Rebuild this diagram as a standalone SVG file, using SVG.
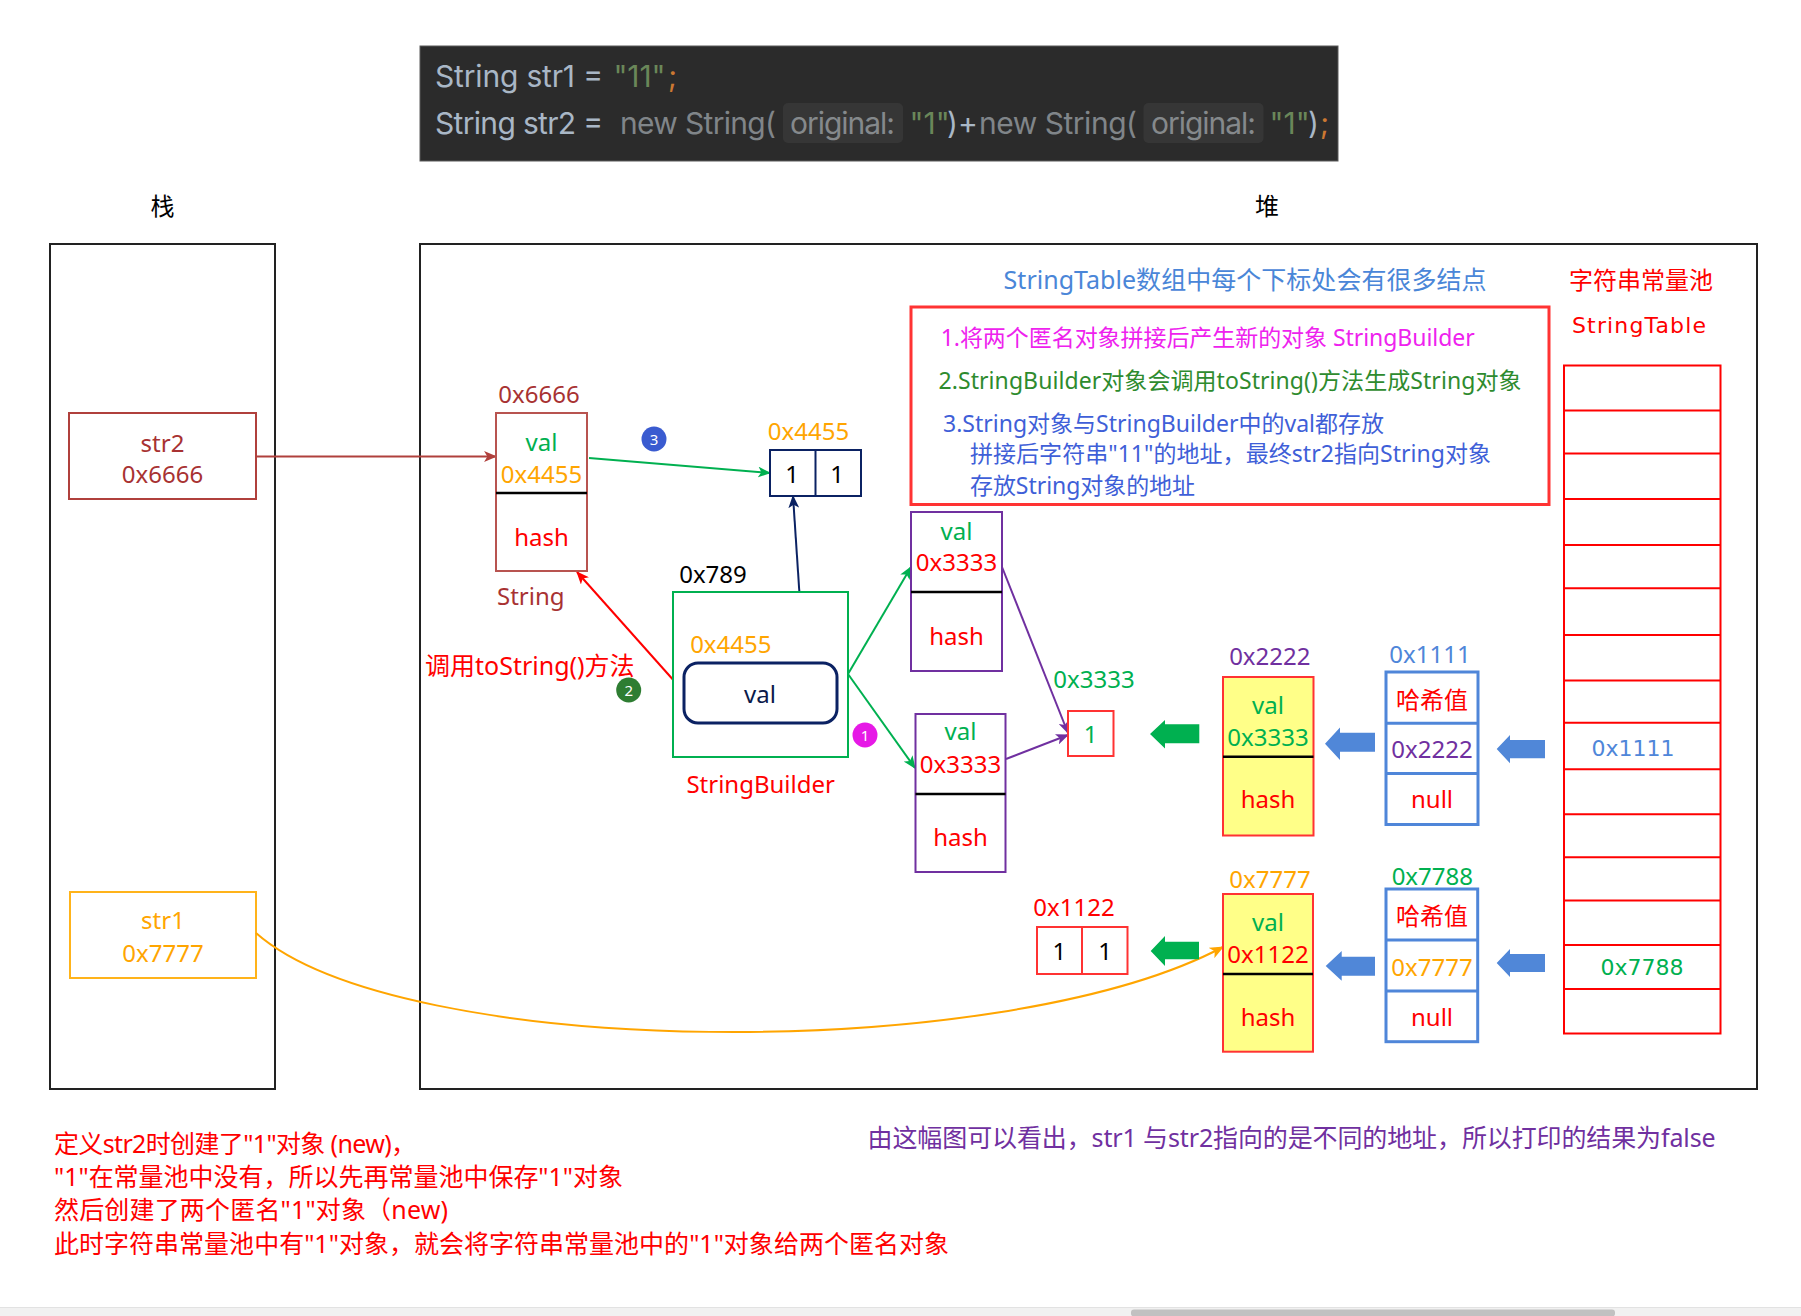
<svg xmlns="http://www.w3.org/2000/svg" width="1801" height="1316" viewBox="0 0 1801 1316">
<style>
.t{font-family:"Noto Sans","Noto Sans CJK SC",sans-serif;font-size:24px;text-anchor:middle;dominant-baseline:central}
.s{text-anchor:start}
.n{font-size:25px}
.nt{font-size:23px}
.code{font-family:Inter,"Liberation Sans",sans-serif;font-size:30px}
.dv{font-family:"DejaVu Sans","Noto Sans CJK SC",sans-serif;font-size:22px;text-anchor:middle;dominant-baseline:central}
.red{fill:#ff0000}.green{fill:#00b050}.orange{fill:#ffa500}.purple{fill:#7030a0}.blue{fill:#4f86d9}.brown{fill:#a83232}.black{fill:#000}
.box{fill:#fff;stroke-width:2}
.div{stroke:#000;stroke-width:2.5}
.conn{fill:none;stroke-width:2}
.badge{font-family:"Noto Sans",sans-serif;font-size:15px;fill:#fff;text-anchor:middle;dominant-baseline:central}
</style>
<defs>
<marker id="m-brown" viewBox="0 0 12 10" refX="11" refY="5" markerWidth="13" markerHeight="11" markerUnits="userSpaceOnUse" orient="auto"><path d="M0,0 L12,5 L0,10 L3,5 z" fill="#b0403c"/></marker>
<marker id="m-green" viewBox="0 0 12 10" refX="11" refY="5" markerWidth="13" markerHeight="11" markerUnits="userSpaceOnUse" orient="auto"><path d="M0,0 L12,5 L0,10 L3,5 z" fill="#00b050"/></marker>
<marker id="m-navy" viewBox="0 0 12 10" refX="11" refY="5" markerWidth="13" markerHeight="11" markerUnits="userSpaceOnUse" orient="auto"><path d="M0,0 L12,5 L0,10 L3,5 z" fill="#0b2263"/></marker>
<marker id="m-red" viewBox="0 0 12 10" refX="11" refY="5" markerWidth="13" markerHeight="11" markerUnits="userSpaceOnUse" orient="auto"><path d="M0,0 L12,5 L0,10 L3,5 z" fill="#ff0000"/></marker>
<marker id="m-purple" viewBox="0 0 12 10" refX="11" refY="5" markerWidth="13" markerHeight="11" markerUnits="userSpaceOnUse" orient="auto"><path d="M0,0 L12,5 L0,10 L3,5 z" fill="#7030a0"/></marker>
<marker id="m-orange" viewBox="0 0 12 10" refX="11" refY="5" markerWidth="14" markerHeight="12" markerUnits="userSpaceOnUse" orient="auto"><path d="M0,0 L12,5 L0,10 L3,5 z" fill="#ffa500"/></marker>
</defs>
<rect width="1801" height="1316" fill="#fff"/>

<g id="code">
<rect x="420" y="46" width="918" height="115" fill="#2b2b2b" stroke="#5a5a5a" stroke-width="1"/>
<rect x="783" y="103" width="120" height="40" rx="5" fill="#363636"/>
<rect x="1143.5" y="103" width="120" height="40" rx="5" fill="#363636"/>
<text class="code" x="435" y="87" fill="#a9b7c6" textLength="168">String str1 =</text>
<text class="code" x="613.5" y="87" fill="#6a8759" textLength="52">"11"</text>
<text class="code" x="668" y="87" fill="#cc7832">;</text>
<text class="code" x="435" y="134" fill="#a9b7c6" textLength="168">String str2 =</text>
<text class="code" x="620" y="134" fill="#808589" textLength="156">new String(</text>
<text class="code" x="790" y="134" fill="#85898c" textLength="105">original:</text>
<text class="code" x="909.5" y="134" fill="#6a8759">"1"</text>
<text class="code" x="947" y="134" fill="#a9b7c6">)+</text>
<text class="code" x="979" y="134" fill="#808589" textLength="158">new String(</text>
<text class="code" x="1151" y="134" fill="#85898c" textLength="105">original:</text>
<text class="code" x="1269.5" y="134" fill="#6a8759">"1"</text>
<text class="code" x="1308" y="134" fill="#a9b7c6">)</text>
<text class="code" x="1320" y="134" fill="#cc7832">;</text>
</g>

<g id="stack">
<text class="t black" x="162.5" y="205">栈</text>
<rect x="50" y="244" width="225" height="845" fill="none" stroke="#222" stroke-width="2"/>
</g>
<g id="heap">
<text class="t black" x="1267" y="205">堆</text>
<rect x="420" y="244" width="1337" height="845" fill="none" stroke="#222" stroke-width="2"/>
</g>

<g id="str2">
<rect class="box" x="69" y="413" width="187" height="86" stroke="#b0403c"/>
<text class="t brown" x="162.5" y="442">str2</text>
<text class="t brown" x="162.5" y="473">0x6666</text>
</g>
<g id="str1">
<rect class="box" x="70" y="892" width="186" height="86" stroke="#ffb31a"/>
<text class="t orange" x="163" y="919">str1</text>
<text class="t orange" x="163" y="952">0x7777</text>
</g>

<g id="connectors">
<path class="conn" d="M256,456.5 L496,456.5" stroke="#b0403c" marker-end="url(#m-brown)"/>
<path class="conn" d="M589,458 L770,473" stroke="#00b050" marker-end="url(#m-green)"/>
<path class="conn" d="M804,662 L793,496" stroke="#0b2263" marker-end="url(#m-navy)"/>
<path class="conn" d="M684,692 L577,572" stroke="#ff0000" marker-end="url(#m-red)"/>
<path class="conn" d="M848,674 L911,567" stroke="#00b050" marker-end="url(#m-green)"/>
<path class="conn" d="M848,674 L915,768" stroke="#00b050" marker-end="url(#m-green)"/>
<path class="conn" d="M1002,567 L1068,733" stroke="#7030a0" marker-end="url(#m-purple)"/>
<path class="conn" d="M1006,759 L1068,735" stroke="#7030a0" marker-end="url(#m-purple)"/>
<path class="conn" d="M256,933 C400,1060 1000,1065 1223,947" stroke="#ffa500" stroke-width="3" marker-end="url(#m-orange)"/>
<polygon points="1150,734 1165,720 1165,724.3 1199.3,724.3 1199.3,743.3 1165,743.3 1165,748.5" fill="#00b050"/>
<polygon points="1150.7,951 1165,936 1165,941.7 1199,941.7 1199,959.3 1165,959.3 1165,966" fill="#00b050"/>
<polygon points="1325,743.7 1340,727.5 1340,732.7 1375,732.7 1375,751.7 1340,751.7 1340,760" fill="#5087d8"/>
<polygon points="1325.7,966 1341.7,951 1341.7,956.7 1375,956.7 1375,975.7 1341.7,975.7 1341.7,980.7" fill="#5087d8"/>
<polygon points="1496.7,749 1510,735 1510,740 1545,740 1545,758.3 1510,758.3 1510,763.3" fill="#5087d8"/>
<polygon points="1496.7,963 1510,949 1510,954 1545,954 1545,972 1510,972 1510,977" fill="#5087d8"/>
</g>

<g id="string-0x6666">
<text class="t brown" x="539" y="393">0x6666</text>
<rect class="box" x="496" y="413" width="91" height="158" stroke="#b85450"/>
<line class="div" x1="496" y1="493" x2="587" y2="493"/>
<text class="t green" x="541.5" y="441.7">val</text>
<text class="t orange" x="541.5" y="473">0x4455</text>
<text class="t red" x="541.5" y="536.7">hash</text>
<text class="t brown s" x="497" y="595">String</text>
</g>

<g id="badge-3"><circle cx="654" cy="439" r="12.5" fill="#3a5bd0"/><text class="badge" x="654" y="439">3</text></g>
<g id="badge-2"><circle cx="628.7" cy="690" r="12.5" fill="#2e7d32"/><text class="badge" x="628.7" y="690">2</text></g>
<g id="badge-1"><circle cx="865" cy="735" r="12.5" fill="#e619e6"/><text class="badge" x="865" y="735">1</text></g>

<g id="array-0x4455">
<text class="t orange" x="808.5" y="430">0x4455</text>
<rect class="box" x="770" y="450" width="91" height="46" stroke="#0b2263"/>
<line x1="815.5" y1="450" x2="815.5" y2="496" stroke="#0b2263" stroke-width="2"/>
<text class="t black" x="792" y="473">1</text>
<text class="t black" x="837" y="473">1</text>
</g>

<g id="tostring-label">
<text class="t red s n" x="425" y="665">调用toString()方法</text>
</g>

<g id="stringbuilder-0x789">
<text class="t black" x="713" y="573">0x789</text>
<rect class="box" x="673" y="592" width="175" height="165" stroke="#00b050"/>
<text class="t orange" x="730.8" y="643">0x4455</text>
<rect x="684" y="663" width="153" height="60" rx="14" fill="#fff" stroke="#0b2263" stroke-width="3"/>
<text class="t" x="760" y="693" fill="#0b1a4a">val</text>
<text class="t red" x="760.7" y="783">StringBuilder</text>
</g>

<g id="string-upper">
<rect class="box" x="911" y="512" width="91" height="159" stroke="#7030a0"/>
<line class="div" x1="911" y1="592" x2="1002" y2="592"/>
<text class="t green" x="956.5" y="530">val</text>
<text class="t red" x="956.5" y="561.7">0x3333</text>
<text class="t red" x="956.5" y="635">hash</text>
</g>
<g id="string-lower">
<rect class="box" x="915.5" y="714" width="90" height="158" stroke="#7030a0"/>
<line class="div" x1="915.5" y1="794" x2="1005.5" y2="794"/>
<text class="t green" x="960.5" y="730.7">val</text>
<text class="t red" x="960.5" y="763.3">0x3333</text>
<text class="t red" x="960.5" y="836.7">hash</text>
</g>

<g id="array-0x3333">
<text class="t green" x="1094" y="678">0x3333</text>
<rect class="box" x="1068" y="711" width="45.5" height="45" stroke="#ff3333"/>
<text class="t green" x="1090.7" y="733.5">1</text>
</g>

<g id="string-0x2222">
<text class="t purple" x="1269.8" y="655">0x2222</text>
<rect x="1223" y="677" width="90.5" height="158.5" fill="#ffff88" stroke="#ff3333" stroke-width="2"/>
<line class="div" x1="1223" y1="756.7" x2="1313.5" y2="756.7"/>
<text class="t green" x="1268" y="704">val</text>
<text class="t green" x="1268" y="736.7">0x3333</text>
<text class="t red" x="1268" y="798.3">hash</text>
</g>

<g id="entry-0x1111">
<text class="t blue" x="1430" y="653">0x1111</text>
<rect x="1386" y="672" width="92" height="152.5" fill="#fff" stroke="#4f86d9" stroke-width="3"/>
<line x1="1386" y1="723.3" x2="1478" y2="723.3" stroke="#4f86d9" stroke-width="3"/>
<line x1="1386" y1="773.5" x2="1478" y2="773.5" stroke="#4f86d9" stroke-width="3"/>
<text class="t red" x="1432" y="699.3">哈希值</text>
<text class="t purple" x="1432" y="748.3">0x2222</text>
<text class="t red" x="1432" y="798.3">null</text>
</g>

<g id="array-0x1122">
<text class="t red" x="1074" y="906.7">0x1122</text>
<rect class="box" x="1037" y="927" width="90.5" height="47" stroke="#ff3333"/>
<line x1="1082" y1="927" x2="1082" y2="974" stroke="#ff3333" stroke-width="2"/>
<text class="t black" x="1059.3" y="950.7">1</text>
<text class="t black" x="1105" y="950.7">1</text>
</g>

<g id="string-0x7777">
<text class="t orange" x="1270" y="878.3">0x7777</text>
<rect x="1223" y="894" width="90" height="157.7" fill="#ffff88" stroke="#ff3333" stroke-width="2"/>
<line class="div" x1="1223" y1="974" x2="1313" y2="974"/>
<text class="t green" x="1268" y="921.7">val</text>
<text class="t red" x="1268" y="953.3">0x1122</text>
<text class="t red" x="1268" y="1016.7">hash</text>
</g>

<g id="entry-0x7788">
<text class="t green" x="1432.3" y="875">0x7788</text>
<rect x="1386" y="889" width="91.7" height="152.7" fill="#fff" stroke="#4f86d9" stroke-width="3"/>
<line x1="1386" y1="940" x2="1477.7" y2="940" stroke="#4f86d9" stroke-width="3"/>
<line x1="1386" y1="991" x2="1477.7" y2="991" stroke="#4f86d9" stroke-width="3"/>
<text class="t red" x="1432" y="915">哈希值</text>
<text class="t orange" x="1432" y="966">0x7777</text>
<text class="t red" x="1432" y="1016">null</text>
</g>

<g id="stringtable">
<text class="t red" x="1641" y="279">字符串常量池</text>
<text class="dv red" x="1639" y="325" font-size="23" textLength="134">StringTable</text>
<rect x="1564" y="365.5" width="156.5" height="668" fill="#fff" stroke="#ff0000" stroke-width="2"/>
<g stroke="#ff0000" stroke-width="2">
<line x1="1564" y1="410.5" x2="1720.5" y2="410.5"/>
<line x1="1564" y1="453.4" x2="1720.5" y2="453.4"/>
<line x1="1564" y1="498.9" x2="1720.5" y2="498.9"/>
<line x1="1564" y1="545" x2="1720.5" y2="545"/>
<line x1="1564" y1="588.3" x2="1720.5" y2="588.3"/>
<line x1="1564" y1="634.9" x2="1720.5" y2="634.9"/>
<line x1="1564" y1="680.4" x2="1720.5" y2="680.4"/>
<line x1="1564" y1="722.7" x2="1720.5" y2="722.7"/>
<line x1="1564" y1="769.3" x2="1720.5" y2="769.3"/>
<line x1="1564" y1="814.3" x2="1720.5" y2="814.3"/>
<line x1="1564" y1="857.2" x2="1720.5" y2="857.2"/>
<line x1="1564" y1="900.6" x2="1720.5" y2="900.6"/>
<line x1="1564" y1="945" x2="1720.5" y2="945"/>
<line x1="1564" y1="989" x2="1720.5" y2="989"/>
</g>
<text class="dv blue" x="1633" y="748">0x1111</text>
<text class="dv green" x="1642" y="967">0x7788</text>
</g>

<g id="notes">
<text class="t s n" x="1003.6" y="279.3" fill="#4a86d8" textLength="483">StringTable数组中每个下标处会有很多结点</text>
<rect x="911" y="307" width="638" height="197.5" fill="none" stroke="#ff3333" stroke-width="3"/>
<text class="t s nt" x="940.7" y="337.3" fill="#ee22ee" textLength="534">1.将两个匿名对象拼接后产生新的对象 StringBuilder</text>
<text class="t s nt" x="938.5" y="380" fill="#2e8b2e" textLength="583">2.StringBuilder对象会调用toString()方法生成String对象</text>
<text class="t s nt" x="943" y="422.7" fill="#3f5fd8" textLength="441">3.String对象与StringBuilder中的val都存放</text>
<text class="t s nt" x="970" y="453.3" fill="#3f5fd8" textLength="521">拼接后字符串"11"的地址，最终str2指向String对象</text>
<text class="t s nt" x="970" y="485" fill="#3f5fd8" textLength="225">存放String对象的地址</text>
</g>

<g id="footer">
<text class="t s n red" x="54" y="1142.7" textLength="362">定义str2时创建了"1"对象 (new)，</text>
<text class="t s n red" x="54" y="1176" textLength="569">"1"在常量池中没有，所以先再常量池中保存"1"对象</text>
<text class="t s n red" x="54" y="1209.3" textLength="394">然后创建了两个匿名"1"对象（new)</text>
<text class="t s n red" x="54" y="1242.7" textLength="895">此时字符串常量池中有"1"对象，就会将字符串常量池中的"1"对象给两个匿名对象</text>
<text class="t s n purple" x="867.6" y="1136.7" textLength="848">由这幅图可以看出，str1 与str2指向的是不同的地址，所以打印的结果为false</text>
</g>

<g id="scrollbar">
<rect x="0" y="1307" width="1801" height="9" fill="#f1f1f1"/>
<line x1="0" y1="1307.5" x2="1801" y2="1307.5" stroke="#e2e2e2" stroke-width="1"/>
<rect x="1131" y="1309.5" width="484" height="7" rx="3" fill="#c1c1c1"/>
</g>
</svg>
